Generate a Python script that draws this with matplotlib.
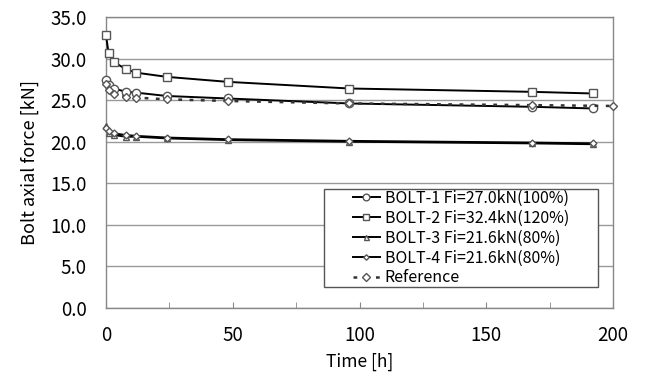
import matplotlib
matplotlib.use("Agg")
import matplotlib.pyplot as plt
from matplotlib.patches import Rectangle

plt.rcParams['font.family'] = ['Noto Sans CJK JP', 'DejaVu Sans']

time_h = [0, 1, 3, 8, 12, 24, 48, 96, 168, 192]
bolt1 = [27.4, 26.8, 26.4, 26.0, 25.9, 25.5, 25.2, 24.6, 24.2, 24.0]
bolt2 = [32.8, 30.7, 29.6, 28.7, 28.3, 27.8, 27.2, 26.4, 26.0, 25.8]
bolt3 = [21.9, 21.1, 20.8, 20.6, 20.6, 20.4, 20.2, 20.0, 19.8, 19.7]
bolt4 = [21.6, 21.3, 21.0, 20.8, 20.7, 20.5, 20.3, 20.1, 19.9, 19.8]
ref_time = [0, 1, 3, 8, 12, 24, 48, 96, 168, 200]
reference = [27.0, 26.2, 25.7, 25.4, 25.3, 25.1, 24.9, 24.6, 24.4, 24.3]

labels = ["BOLT-1 Fi=27.0kN(100%)", "BOLT-2 Fi=32.4kN(120%)",
          "BOLT-3 Fi=21.6kN(80%)", "BOLT-4 Fi=21.6kN(80%)", "Reference"]

fig = plt.figure(figsize=(6.59, 3.76), dpi=100)
ax = fig.add_axes([106/659, 1-308/376, (613-106)/659, (308-17)/376])

mk = dict(markerfacecolor='white', markeredgecolor='#555555', markeredgewidth=1.0, clip_on=False)
ax.plot(time_h, bolt1, '-', color='black', lw=1.4, marker='o', markersize=6, label=labels[0], **mk, zorder=3)
ax.plot(time_h, bolt2, '-', color='black', lw=1.4, marker='s', markersize=6, label=labels[1], **mk, zorder=3)
ax.plot(time_h, bolt3, '-', color='black', lw=1.4, marker='^', markersize=4.5, label=labels[2], **mk, zorder=3)
ax.plot(time_h, bolt4, '-', color='black', lw=1.4, marker='D', markersize=3.5, label=labels[3], **mk, zorder=3)
ax.plot(ref_time, reference, linestyle=(0, (1.5, 3)), color='#333333', lw=1.8, marker='D',
        markersize=4.5, label=labels[4], **mk, zorder=3)

ax.set_xlim(0, 200)
ax.set_ylim(0, 35)
ax.set_yticks([0, 5, 10, 15, 20, 25, 30, 35])
ax.set_yticklabels([f"{v:.1f}" for v in [0, 5, 10, 15, 20, 25, 30, 35]])
ax.set_xticks([0, 50, 100, 150, 200])
ax.set_xticks([25, 75, 125, 175], minor=True)
ax.yaxis.grid(True, color='#999999', lw=1.0)
ax.set_axisbelow(True)
for s in ax.spines.values():
    s.set_color('#888888')
    s.set_linewidth(1.0)
ax.tick_params(axis='x', which='both', direction='in', length=4, color='#888888', labelsize=13.5, pad=12)
ax.tick_params(axis='y', length=0, labelsize=13.5, pad=14)

ax.set_xlabel("Time [h]", fontsize=12.5, labelpad=5)
ax.set_ylabel("Bolt axial force [kN]", fontsize=13, labelpad=8)

handles, _ = ax.get_legend_handles_labels()
leg = fig.legend(handles, labels, loc='center',
                 bbox_to_anchor=((324+598)/2/659, 1-(189+287)/2/376),
                 fontsize=11.5, frameon=False,
                 handlelength=1.7, handletextpad=0.3, labelspacing=0.18, borderpad=0.2, markerscale=0.8)
leg.set_zorder(5)
fig.add_artist(Rectangle((324/659, 1-287/376), (598-324)/659, (287-189)/376, transform=fig.transFigure,
                         facecolor='white', edgecolor='#555555', lw=1.0, zorder=4))

fig.savefig("out.png", dpi=100)
